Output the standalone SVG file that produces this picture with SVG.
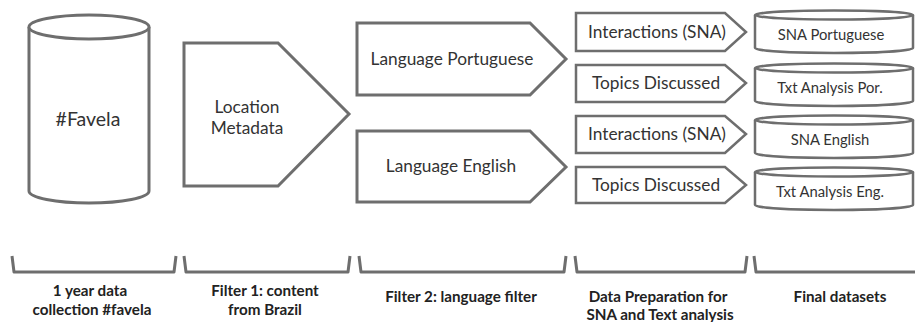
<svg xmlns="http://www.w3.org/2000/svg" width="915" height="322" viewBox="0 0 915 322">
<style>
.s{fill:#fff;stroke:#6e6e6e;stroke-width:3;stroke-linejoin:miter}
.s2{fill:#fff;stroke:#6e6e6e;stroke-width:2.5}
.b{fill:none;stroke:#6e6e6e;stroke-width:3;stroke-linejoin:round}
.t{font-family:Lato,"Open Sans",sans-serif;fill:#333;text-anchor:middle;dominant-baseline:central}
.l{font-size:19.5px}
.m{font-size:17.3px}
.sm{font-size:14.8px}
.lb{font-family:Lato,"Open Sans",sans-serif;font-weight:bold;font-size:15.2px;fill:#222;text-anchor:middle}
</style>
<g id="favela">
<path class="s" d="M29,27 L29,191 A60,12 0 0 0 149,191 L149,27"/>
<ellipse class="s" cx="89" cy="27" rx="60" ry="12"/>
<text class="t l" x="88" y="118">#Favela</text>
</g>
<g id="location">
<path class="s" d="M184,43 L278,43 L349,114 L278,186 L184,186 Z"/>
<text class="t m" x="247" y="106">Location</text>
<text class="t m" x="247" y="127">Metadata</text>
</g>
<g id="lang-pt">
<path class="s" d="M357,23 L530,23 L566,59 L530,95 L357,95 Z"/>
<text class="t m" x="452" y="58">Language Portuguese</text>
</g>
<g id="lang-en">
<path class="s" d="M357,131 L530,131 L566,167 L530,202 L357,202 Z"/>
<text class="t m" x="451" y="165">Language English</text>
</g>
<g id="int-pt">
<path class="s2" d="M576,13 L725,13 L746,32 L725,51 L576,51 Z"/>
<text class="t m" x="657" y="31">Interactions (SNA)</text>
</g>
<g id="top-pt">
<path class="s2" d="M576,65 L725,65 L746,83 L725,102 L576,102 Z"/>
<text class="t m" x="656" y="82">Topics Discussed</text>
</g>
<g id="int-en">
<path class="s2" d="M576,116 L725,116 L746,134 L725,153 L576,153 Z"/>
<text class="t m" x="657" y="133">Interactions (SNA)</text>
</g>
<g id="top-en">
<path class="s2" d="M576,167 L725,167 L746,185 L725,203 L576,203 Z"/>
<text class="t m" x="656" y="184">Topics Discussed</text>
</g>
<g id="sna-pt">
<path class="s2" d="M755,15 L755,48 A79,5 0 0 0 913,48 L913,15"/>
<ellipse class="s2" cx="834" cy="15" rx="79" ry="4.5"/>
<text class="t sm" x="831" y="34">SNA Portuguese</text>
</g>
<g id="txt-pt">
<path class="s2" d="M755,68 L755,101 A79,5 0 0 0 913,101 L913,68"/>
<ellipse class="s2" cx="834" cy="68" rx="79" ry="4.5"/>
<text class="t sm" x="830" y="87">Txt Analysis Por.</text>
</g>
<g id="sna-en">
<path class="s2" d="M755,120 L755,153 A79,5 0 0 0 913,153 L913,120"/>
<ellipse class="s2" cx="834" cy="120" rx="79" ry="4.5"/>
<text class="t sm" x="830" y="139">SNA English</text>
</g>
<g id="txt-en">
<path class="s2" d="M755,172 L755,205 A79,5 0 0 0 913,205 L913,172"/>
<ellipse class="s2" cx="834" cy="172" rx="79" ry="4.5"/>
<text class="t sm" x="830" y="191">Txt Analysis Eng.</text>
</g>
<g id="brackets">
<path class="b" d="M12,256 L14,272 L174,272 L176,256"/>
<path class="b" d="M184,256 L186,272 L348,272 L350,256"/>
<path class="b" d="M359,256 L361,272 L564,272 L566,256"/>
<path class="b" d="M575,256 L577,272 L745,272 L747,256"/>
<path class="b" d="M754,256 L756,272 L915,272"/>
</g>
<g id="labels">
<text class="lb" x="90" y="296">1 year data</text>
<text class="lb" x="92" y="315">collection #favela</text>
<text class="lb" x="265" y="296">Filter 1: content</text>
<text class="lb" x="265" y="315">from Brazil</text>
<text class="lb" x="461" y="302">Filter 2: language filter</text>
<text class="lb" x="658" y="302">Data Preparation for</text>
<text class="lb" x="660" y="320">SNA and Text analysis</text>
<text class="lb" x="840" y="302">Final datasets</text>
</g>
</svg>
